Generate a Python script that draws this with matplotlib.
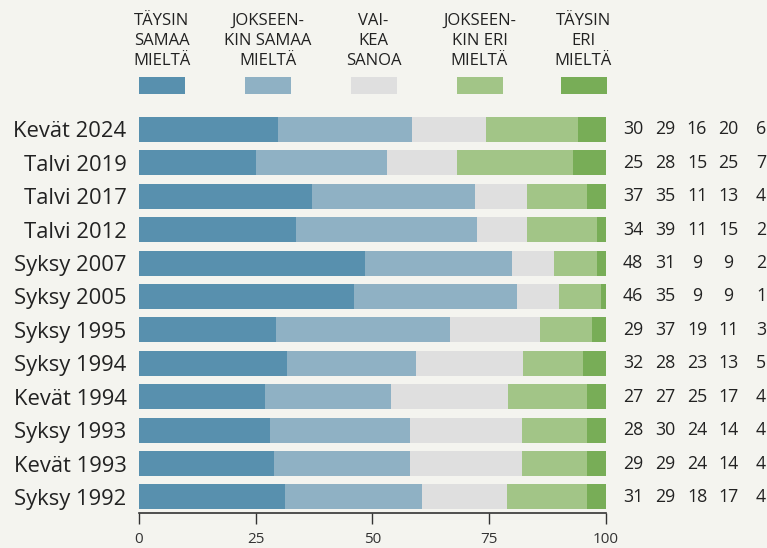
import matplotlib.pyplot as plt
import matplotlib.transforms as mtransforms
import numpy as np

plt.rcParams['font.family'] = ['Open Sans', 'DejaVu Sans']

periods = ["Kevät 2024", "Talvi 2019", "Talvi 2017", "Talvi 2012", "Syksy 2007",
           "Syksy 2005", "Syksy 1995", "Syksy 1994", "Kevät 1994", "Syksy 1993",
           "Kevät 1993", "Syksy 1992"]
taysin_samaa = [30, 25, 37, 34, 48, 46, 29, 32, 27, 28, 29, 31]
jokseenkin_samaa = [29, 28, 35, 39, 31, 35, 37, 28, 27, 30, 29, 29]
vaikea_sanoa = [16, 15, 11, 11, 9, 9, 19, 23, 25, 24, 24, 18]
jokseenkin_eri = [20, 25, 13, 15, 9, 9, 11, 13, 17, 14, 14, 17]
taysin_eri = [6, 7, 4, 2, 2, 1, 3, 5, 4, 4, 4, 4]

legend_labels = ["TÄYSIN\nSAMAA\nMIELTÄ", "JOKSEEN-\nKIN SAMAA\nMIELTÄ", "VAI-\nKEA\nSANOA",
                 "JOKSEEN-\nKIN ERI\nMIELTÄ", "TÄYSIN\nERI\nMIELTÄ"]
colors = ["#5890ae", "#8fb1c4", "#dfdfdf", "#a2c587", "#78ad57"]
bg = "#f4f4ef"

series = np.array([taysin_samaa, jokseenkin_samaa, vaikea_sanoa, jokseenkin_eri, taysin_eri], dtype=float)
shares = series / series.sum(axis=0) * 100

fig = plt.figure(figsize=(7.67, 5.48), dpi=100, facecolor=bg)
ax = fig.add_axes([139/767, 1 - 513/548, (606-139)/767, (513-110)/548])
ax.set_facecolor(bg)

y = np.arange(len(periods))
left = np.zeros(len(periods))
for k in range(5):
    ax.barh(y, shares[k], left=left, height=0.75, color=colors[k], linewidth=0)
    left += shares[k]

ax.set_ylim(len(periods) - 1 + 0.48, -0.58)
ax.set_xlim(0, 100)
ax.set_yticks(y)
ax.set_yticklabels(periods, fontsize=15.8, color="#222222")
ax.tick_params(axis='y', length=0, pad=9)
ax.set_xticks([0, 25, 50, 75, 100])
ax.tick_params(axis='x', length=8, width=1, color="#333333", labelsize=11, labelcolor="#333333", pad=6)
for s in ['top', 'right', 'left']:
    ax.spines[s].set_visible(False)
ax.spines['bottom'].set_color("#333333")
ax.spines['bottom'].set_linewidth(1.2)

# numbers to the right of the bars
trans = mtransforms.blended_transform_factory(fig.transFigure, ax.transData)
col_x = [633, 665, 697, 728, 761]
for k in range(5):
    for i in range(len(periods)):
        ax.text(col_x[k] / 767, i, str(int(series[k][i])), transform=trans,
                ha='center', va='center', fontsize=12.8, color="#222222")

# legend
leg_x = [162, 268, 373.5, 479.5, 583.5]
for k in range(5):
    fig.patches.append(plt.Rectangle(((leg_x[k] - 23) / 767, 1 - 94/548), 46/767, 17/548,
                                     transform=fig.transFigure, color=colors[k], linewidth=0))
    fig.text(leg_x[k] / 767, 1 - 13/548, legend_labels[k], ha='center', va='top',
             fontsize=12, color="#222222", linespacing=1.33)

fig.savefig("out.png", dpi=100, facecolor=bg)
